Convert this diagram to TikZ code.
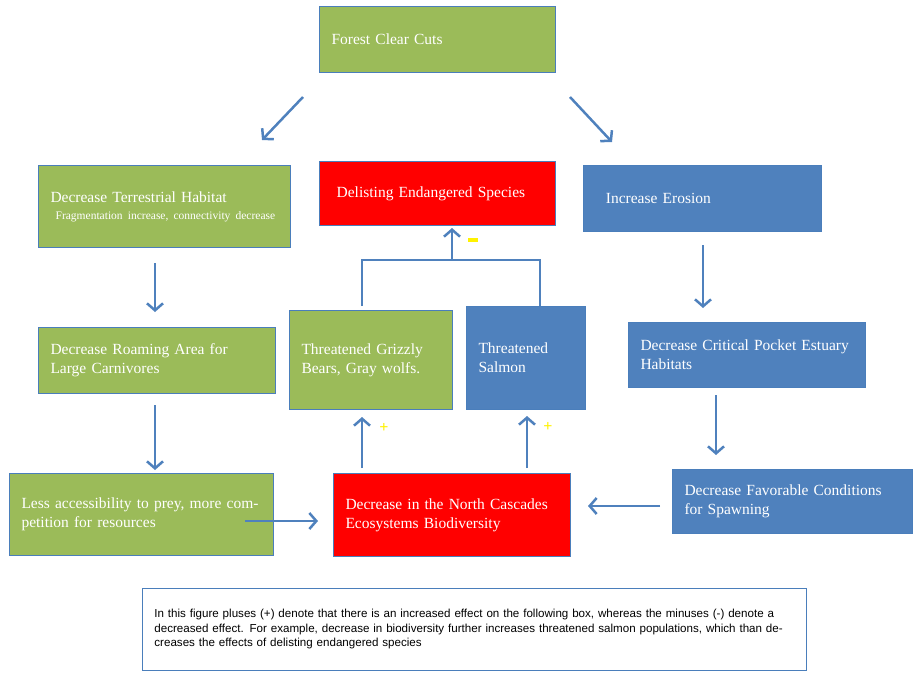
\documentclass[tikz,border=0pt]{standalone}
\usepackage{fontspec}
\setmainfont{Liberation Serif}
\newfontfamily\capfont{Liberation Sans}
\usetikzlibrary{arrows.meta}
\definecolor{gr}{HTML}{9BBB59}
\definecolor{bl}{HTML}{4F81BD}
\definecolor{rd}{HTML}{FF0000}
\definecolor{edge}{HTML}{4A7EBB}
\definecolor{arrc}{HTML}{4F81BD}
\begin{document}
\begin{tikzpicture}[x=1pt,y=-1pt,
 box/.style={draw=edge,line width=1pt,rectangle,inner xsep=12pt,align=left,text=white,font=\fontsize{15.5}{19}\selectfont,anchor=north west},
 arr/.style={draw=arrc,line width=2.5pt,-{Straight Barb[length=7pt,width=16pt,line width=2.5pt]}},
 ln/.style={draw=arrc,line width=2.5pt},
 sign/.style={text=yellow,font=\bfseries\fontsize{16}{16}\selectfont,inner sep=0pt}]
\useasboundingbox (0,0) rectangle (921,688);
\newcommand\bx[7]{\node[box,fill=#2,minimum width=#5-#3,minimum height=#6-#4,text width=#5-#3-24] (#1) at (#3,#4) {#7};}
\bx{forest}{gr}{319}{6}{555}{72}{\centering Forest Clear Cuts}
\bx{terr}{gr}{38}{165}{290}{247}{Decrease Terrestrial Habitat\\[-2pt]{\fontsize{11.5}{15}\selectfont\ Fragmentation increase, connectivity decrease}}
\bx{delist}{rd}{319}{161}{555}{225}{\ Delisting Endangered Species}
\bx{eros}{bl}{583}{165}{821}{231}{\ \ Increase Erosion}
\bx{roam}{gr}{38}{327}{275}{393}{Decrease Roaming Area for Large Carnivores}
\bx{grizzly}{gr}{289}{310}{452}{409}{Threatened Grizzly Bears, Gray wolfs.}
\bx{salmon}{bl}{466}{306}{585}{409}{Threatened Salmon}
\bx{crit}{bl}{628}{322}{865}{387}{Decrease Critical Pocket Estuary Habitats}
\bx{less}{gr}{9}{473}{273}{555}{Less accessibility to prey, more competition for resources}
\bx{north}{rd}{333}{473}{570}{556}{Decrease in the North Cascades Ecosystems Biodiversity}
\bx{fav}{bl}{672}{469}{912}{533}{Decrease Favorable Conditions for Spawning}
\node[draw=edge,line width=0.8pt,anchor=north west,minimum width=664,minimum height=82,inner xsep=12pt,align=left,text width=640,font=\capfont\fontsize{11.6}{14.5}\selectfont] (cap) at (142,588) {In this figure pluses (+) denote that there is an increased effect on the following box, whereas the minuses (-) denote a decreased effect. For example, decrease in biodiversity further increases threatened salmon populations, which than decreases the effects of delisting endangered species};
\coordinate (a1) at (303,97); \coordinate (a2) at (262,140);
\coordinate (b1) at (570,97); \coordinate (b2) at (612,142);
\draw[arr] (a1) -- (a2);
\draw[arr] (b1) -- (b2);
\draw[arr] (terr.south -| 155,0) ++(0,15) coordinate (c1) -- (155,312) coordinate (c2);
\draw[arr] (155,405) coordinate (d1) -- (155,470) coordinate (d2);
\draw[arr] (703,245) coordinate (e1) -- (703,308) coordinate (e2);
\draw[arr] (716,395) coordinate (f1) -- (716,455) coordinate (f2);
\draw[arr] (245,521) coordinate (g1) -- (318,521) coordinate (g2);
\draw[arr] (660,506) coordinate (h1) -- (588,506) coordinate (h2);
\draw[arr] (362,468) coordinate (i1) -- (362,417) coordinate (i2);
\draw[arr] (527,468) coordinate (j1) -- (527,416) coordinate (j2);
\coordinate (k1) at (362,306); \coordinate (k2) at (540,306);
\draw[ln] (k1) -- (362,260) -- (540,260) -- (k2);
\draw[arr] (452,260) coordinate (m1) -- (452,228) coordinate (m2);
\node[sign] (minus) at (473,240) {\rule{10pt}{3.5pt}};
\node[sign] (p1) at (384,428) {+};
\node[sign] (p2) at (548,427) {+};
\end{tikzpicture}
\end{document}
